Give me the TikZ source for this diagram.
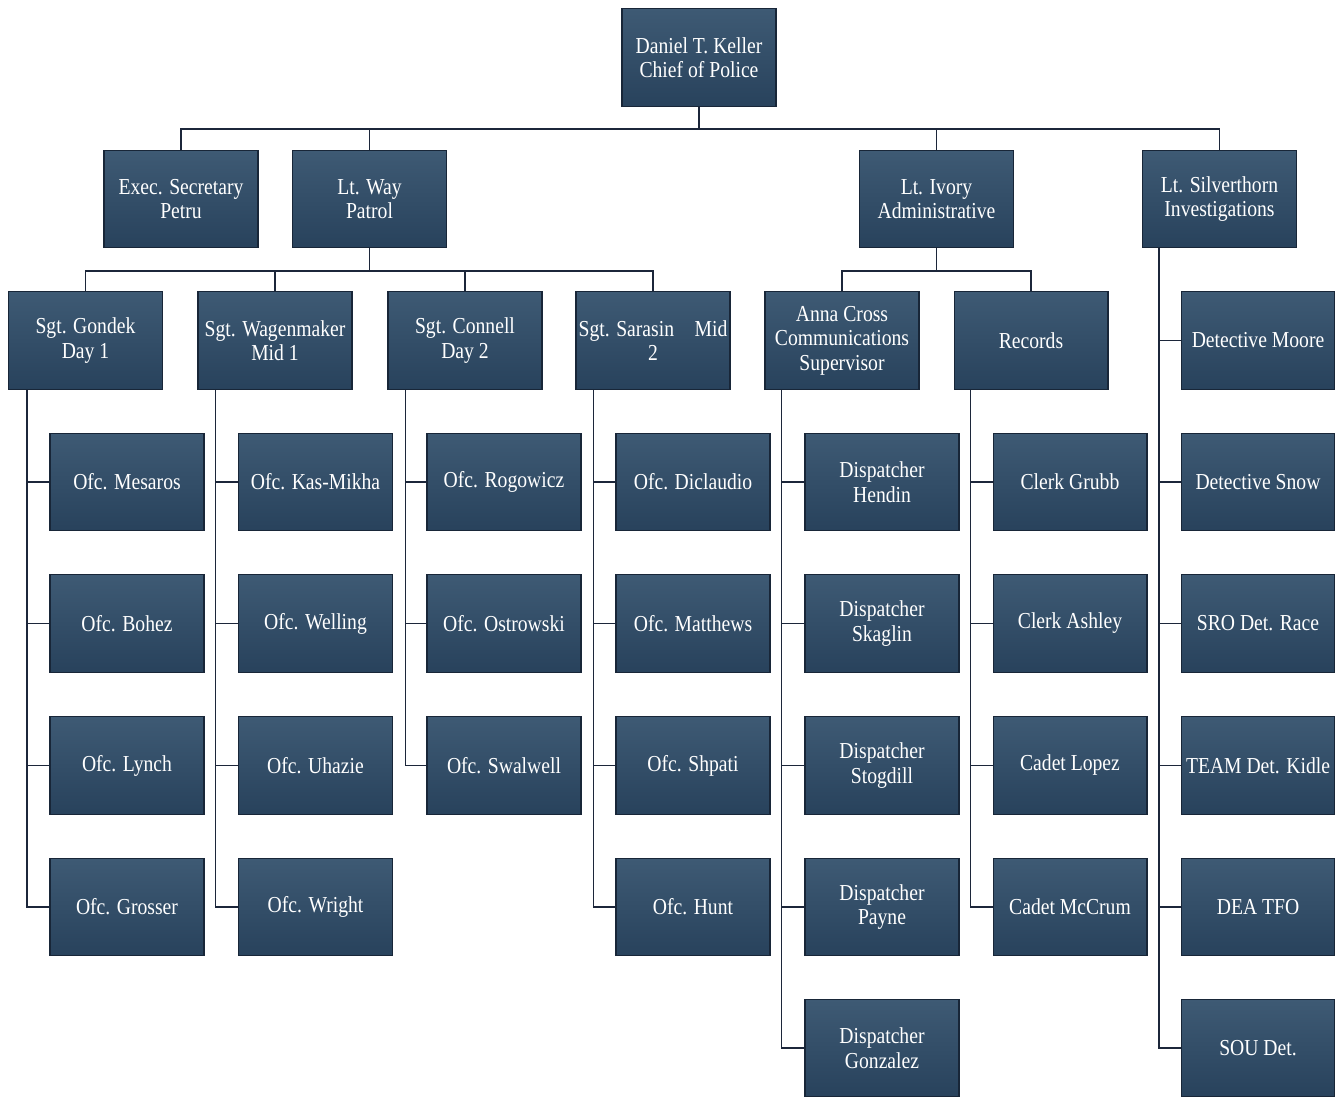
\documentclass[tikz,border=0pt]{standalone}
\usepackage{fontspec}
\setmainfont{Liberation Serif}[FakeStretch=0.86]
\usepackage{tikz}
\usetikzlibrary{positioning}
\usepackage{xcolor}
\definecolor{boxtop}{RGB}{62,90,116}
\definecolor{boxbot}{RGB}{40,66,92}
\definecolor{boxedge}{RGB}{24,38,56}
\definecolor{wire}{RGB}{28,38,58}

\tikzset{
  unit/.style={draw=boxedge, line width=0.6pt, top color=boxtop, bottom color=boxbot,
               text=white, align=center, minimum width=3.08cm, minimum height=1.95cm,
               inner sep=0pt, font=\fontsize{13}{14}\selectfont},
  link/.style={draw=wire, line width=1.1pt}
}

\begin{document}
\begin{tikzpicture}[x=0.02cm, y=-0.02cm]
\useasboundingbox (0,0) rectangle (1335,1097);

% Chief and lieutenants
\node[unit] (chief) at (699,57.5) {Daniel T. Keller\\Chief of Police};
\node[unit] (exec)   at (181,199)    {Exec. Secretary\\Petru};
\node[unit] (way)    at (369.5,199)  {Lt. Way\\Patrol};
\node[unit] (ivory)  at (936.5,199)  {Lt. Ivory\\Administrative};
\node[unit] (silver) at (1219.5,199) {Lt. Silverthorn\\Investigations};

% Sergeants and section heads
\node[unit] (gondek)  at (85.5,340.5) {Sgt. Gondek\\Day 1};
\node[unit] (wagen)   at (275,340.5)  {Sgt. Wagenmaker\\Mid 1};
\node[unit] (connell) at (465,340.5)  {Sgt. Connell\\Day 2};
\node[unit] (sarasin) at (653,340.5)  {Sgt. Sarasin\hspace{0.9em}Mid\\2};
\node[unit] (anna)    at (842,340.5)  {Anna Cross\\Communications\\Supervisor};
\node[unit] (records) at (1031,340.5) {Records};

% Day 1
\node[unit] (mesaros) at (127,482)   {Ofc. Mesaros};
\node[unit] (bohez)   at (127,623.5) {Ofc. Bohez};
\node[unit] (lynch)   at (127,765.5) {Ofc. Lynch};
\node[unit] (grosser) at (127,907)   {Ofc. Grosser};

% Mid 1
\node[unit] (kasmikha) at (315.5,482)   {Ofc. Kas-Mikha};
\node[unit] (welling)  at (315.5,623.5) {Ofc. Welling};
\node[unit] (uhazie)   at (315.5,765.5) {Ofc. Uhazie};
\node[unit] (wright)   at (315.5,907)   {Ofc. Wright};

% Day 2
\node[unit] (rogowicz)  at (504,482)   {Ofc. Rogowicz};
\node[unit] (ostrowski) at (504,623.5) {Ofc. Ostrowski};
\node[unit] (swalwell)  at (504,765.5) {Ofc. Swalwell};

% Mid 2
\node[unit] (diclaudio) at (693,482)   {Ofc. Diclaudio};
\node[unit] (matthews)  at (693,623.5) {Ofc. Matthews};
\node[unit] (shpati)    at (693,765.5) {Ofc. Shpati};
\node[unit] (hunt)      at (693,907)   {Ofc. Hunt};

% Communications
\node[unit] (hendin)   at (882,482)   {Dispatcher\\Hendin};
\node[unit] (skaglin)  at (882,623.5) {Dispatcher\\Skaglin};
\node[unit] (stogdill) at (882,765.5) {Dispatcher\\Stogdill};
\node[unit] (payne)    at (882,907)   {Dispatcher\\Payne};
\node[unit] (gonzalez) at (882,1048)  {Dispatcher\\Gonzalez};

% Records
\node[unit] (grubb)  at (1070,482)   {Clerk Grubb};
\node[unit] (ashley) at (1070,623.5) {Clerk Ashley};
\node[unit] (lopez)  at (1070,765.5) {Cadet Lopez};
\node[unit] (mccrum) at (1070,907)   {Cadet McCrum};

% Investigations
\node[unit] (moore) at (1258,340.5) {Detective Moore};
\node[unit] (snow)  at (1258,482)   {Detective Snow};
\node[unit] (race)  at (1258,623.5) {SRO Det. Race};
\node[unit] (kidle) at (1258,765.5) {TEAM Det. Kidle};
\node[unit] (dea)   at (1258,907)   {DEA TFO};
\node[unit] (sou)   at (1258,1048)  {SOU Det.};

% Top level connectors
\coordinate (bus0) at ([yshift=-0.44cm]chief.south);
\draw[link] (chief.south) -- (bus0);
\draw[link] (bus0) -| (exec.north);
\draw[link] (bus0) -| (way.north);
\draw[link] (bus0) -| (ivory.north);
\draw[link] (bus0) -| (silver.north);

\coordinate (bus1) at ([yshift=-0.46cm]way.south);
\draw[link] (way.south) -- (bus1);
\draw[link] (bus1) -| (gondek.north);
\draw[link] (bus1) -| (wagen.north);
\draw[link] (bus1) -| (connell.north);
\draw[link] (bus1) -| (sarasin.north);

\coordinate (bus2) at ([yshift=-0.46cm]ivory.south);
\draw[link] (ivory.south) -- (bus2);
\draw[link] (bus2) -| (anna.north);
\draw[link] (bus2) -| (records.north);

% Side rails
\draw[link] ([xshift=0.38cm]gondek.south west) |- (mesaros.west);
\draw[link] ([xshift=0.38cm]gondek.south west) |- (bohez.west);
\draw[link] ([xshift=0.38cm]gondek.south west) |- (lynch.west);
\draw[link] ([xshift=0.38cm]gondek.south west) |- (grosser.west);

\draw[link] ([xshift=0.36cm]wagen.south west) |- (kasmikha.west);
\draw[link] ([xshift=0.36cm]wagen.south west) |- (welling.west);
\draw[link] ([xshift=0.36cm]wagen.south west) |- (uhazie.west);
\draw[link] ([xshift=0.36cm]wagen.south west) |- (wright.west);

\draw[link] ([xshift=0.36cm]connell.south west) |- (rogowicz.west);
\draw[link] ([xshift=0.36cm]connell.south west) |- (ostrowski.west);
\draw[link] ([xshift=0.36cm]connell.south west) |- (swalwell.west);

\draw[link] ([xshift=0.36cm]sarasin.south west) |- (diclaudio.west);
\draw[link] ([xshift=0.36cm]sarasin.south west) |- (matthews.west);
\draw[link] ([xshift=0.36cm]sarasin.south west) |- (shpati.west);
\draw[link] ([xshift=0.36cm]sarasin.south west) |- (hunt.west);

\draw[link] ([xshift=0.34cm]anna.south west) |- (hendin.west);
\draw[link] ([xshift=0.34cm]anna.south west) |- (skaglin.west);
\draw[link] ([xshift=0.34cm]anna.south west) |- (stogdill.west);
\draw[link] ([xshift=0.34cm]anna.south west) |- (payne.west);
\draw[link] ([xshift=0.34cm]anna.south west) |- (gonzalez.west);

\draw[link] ([xshift=0.34cm]records.south west) |- (grubb.west);
\draw[link] ([xshift=0.34cm]records.south west) |- (ashley.west);
\draw[link] ([xshift=0.34cm]records.south west) |- (lopez.west);
\draw[link] ([xshift=0.34cm]records.south west) |- (mccrum.west);

\draw[link] ([xshift=0.34cm]silver.south west) |- (moore.west);
\draw[link] ([xshift=0.34cm]silver.south west) |- (snow.west);
\draw[link] ([xshift=0.34cm]silver.south west) |- (race.west);
\draw[link] ([xshift=0.34cm]silver.south west) |- (kidle.west);
\draw[link] ([xshift=0.34cm]silver.south west) |- (dea.west);
\draw[link] ([xshift=0.34cm]silver.south west) |- (sou.west);

\end{tikzpicture}
\end{document}
